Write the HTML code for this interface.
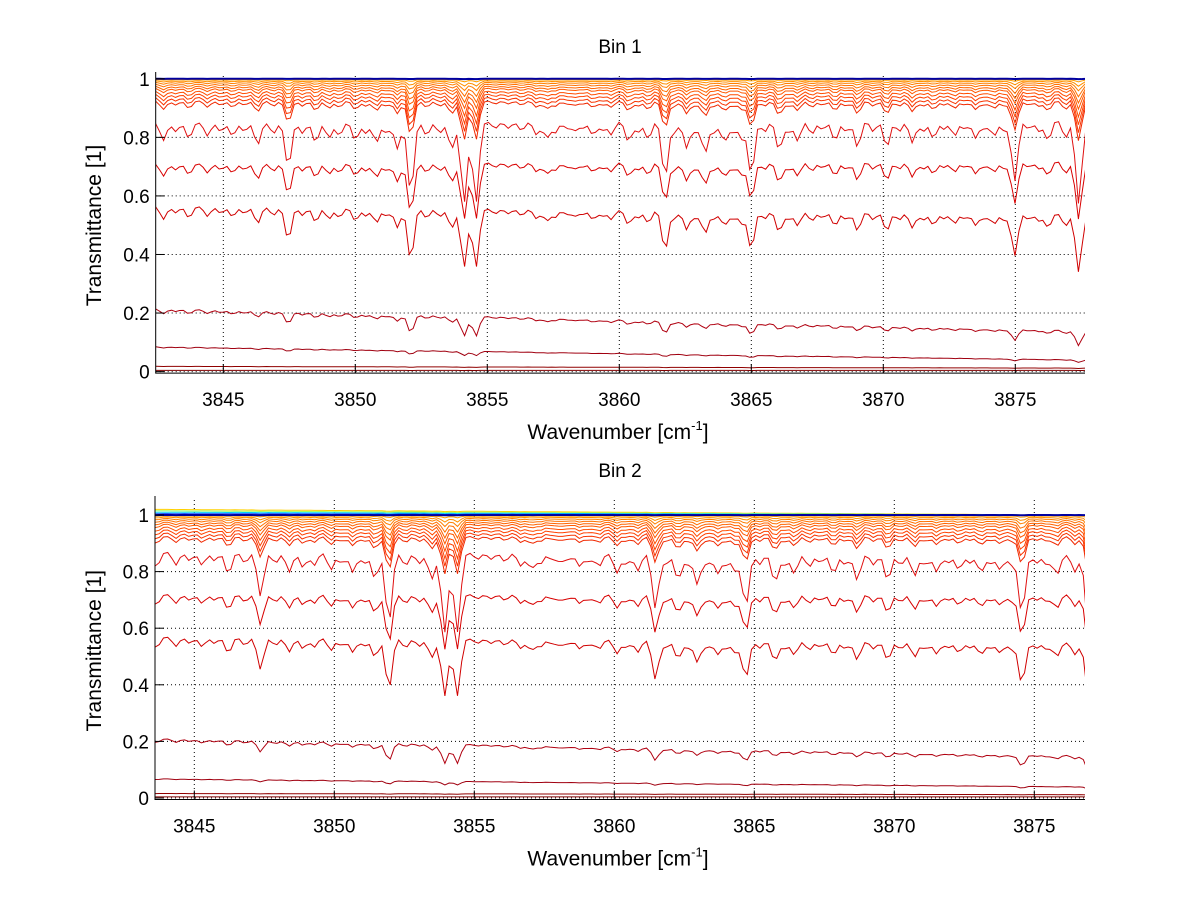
<!DOCTYPE html>
<html><head><meta charset="utf-8"><style>
html,body{margin:0;padding:0;background:#fff;}
svg{display:block;font-family:"Liberation Sans",Arial,sans-serif;}
</style></head><body>
<svg id="fig" width="1200" height="901" viewBox="0 0 1200 901"></svg>
<script>
// ---- data ----
const xTicks = [3845,3850,3855,3860,3865,3870,3875];
const yTicks = [0,0.2,0.4,0.6,0.8,1];
const yTickLabels = ["0","0.2","0.4","0.6","0.8","1"];
// absorption line list (centers, fractional depths)
const lineCenters = [3842.73,3843.2,3843.7,3844.4,3844.9,3845.35,3845.8,3846.3,3846.9,3847.46,3848.0,3848.5,3849.0,3849.4,3850.0,3850.4,3850.8,3851.2,3851.6,3852.1,3852.7,3853.2,3853.65,3854.12,3854.57,3855.3,3855.8,3856.3,3856.87,3857.25,3857.57,3858.0,3858.3,3858.6,3859.0,3859.35,3859.7,3860.34,3860.7,3861.1,3861.73,3862.1,3862.55,3862.9,3863.25,3863.6,3863.98,3864.3,3864.64,3865.0,3865.5,3866.05,3866.4,3866.76,3867.29,3867.7,3868.17,3868.6,3869.03,3869.62,3870.13,3870.6,3871.1,3871.5,3871.9,3872.3,3872.7,3873.1,3873.5,3873.85,3874.2,3874.6,3874.98,3875.5,3875.9,3876.25,3876.9,3877.4];
const lineDepths = [0.08,0.04,0.07,0.06,0.04,0.06,0.04,0.10,0.05,0.20,0.05,0.09,0.07,0.06,0.08,0.05,0.09,0.05,0.12,0.32,0.06,0.05,0.12,0.36,0.36,0.03,0.03,0.04,0.06,0.07,0.05,0.03,0.04,0.03,0.06,0.04,0.06,0.09,0.05,0.08,0.25,0.05,0.12,0.05,0.14,0.05,0.09,0.05,0.08,0.24,0.05,0.13,0.05,0.09,0.06,0.04,0.09,0.05,0.12,0.05,0.12,0.05,0.10,0.05,0.08,0.04,0.07,0.04,0.08,0.04,0.07,0.05,0.27,0.04,0.05,0.09,0.08,0.37];
// per-curve baselines (left end, right end) and line-depth scales
const bin1Left  = [1,1,1,1,1,0.997,0.993,0.988,0.982,0.975,0.968,0.958,0.948,0.937,0.925,0.85,0.71,0.565,0.215,0.085,0.018,0.004];
const bin1Right = [1,1,1,1,1,0.997,0.993,0.988,0.982,0.975,0.968,0.958,0.948,0.937,0.925,0.86,0.72,0.54,0.14,0.04,0.012,0.004];
const bin2Left  = [1.02,1.015,1.01,1.005,1.0,0.997,0.993,0.988,0.982,0.975,0.968,0.958,0.948,0.937,0.925,0.87,0.72,0.57,0.21,0.068,0.016,0.004];
const bin2Right = [1,1,1,1,1,0.997,0.993,0.988,0.982,0.975,0.968,0.958,0.948,0.937,0.925,0.86,0.72,0.55,0.15,0.04,0.012,0.004];
const scales    = [0.005,0.005,0.005,0.005,0.003,0.02,0.05,0.08,0.12,0.16,0.2,0.25,0.3,0.35,0.4,0.9,0.75,1.0,1.0,0.6,0.3,0.1];
const colors = ["#ffd000","#a0ff60","#00d0ff","#0040ff","#0000a0","#ffa000","#ff9000","#ff8000","#ff7000","#ff6400","#ff5800","#ff4c00","#ff4000","#f83400","#f02800","#e01010","#d80000","#d00000","#b00010","#a00010","#900000","#800000"];
const bins = [
 {title:"Bin 1", top:78, y0:371.6, py:292.8, left:155.7, right:1085, x0:3845, px0:223.3, pxu:26.4, wmin:3842.44, wmax:3877.64, L:bin1Left, R:bin1Right, shiftA:0, shiftB:0},
 {title:"Bin 2", top:502, y0:798, py:283, left:155, right:1085, x0:3845, px0:194.3, pxu:28, wmin:3843.6, wmax:3876.8, L:bin2Left, R:bin2Right, shiftA:-0.05, shiftB:-0.45}
];
// ---- drawing ----
const NS="http://www.w3.org/2000/svg";
const svg=document.getElementById('fig');
function mk(tag,attrs,parent){const e=document.createElementNS(NS,tag);for(const k in attrs)e.setAttribute(k,attrs[k]);(parent||svg).appendChild(e);return e;}
function D(w){let s=0;for(let i=0;i<lineCenters.length;i++){const d=(w-lineCenters[i])/0.17;s+=lineDepths[i]*Math.exp(-d*d);}return Math.min(s,0.9);}
bins.forEach((b,bi)=>{
  const g=mk('g',{});
  
  
  const X=w=>b.px0+(w-b.x0)*b.pxu;
  const Y=v=>b.y0-v*b.py;
  const bottom=b.y0+1.5;
  xTicks.forEach(t=>{const x=X(t);
    const l=mk('line',{x1:x,x2:x,y1:b.top-2,y2:bottom,stroke:'#000','stroke-width':1,'stroke-dasharray':'1,3'},g);
    });
  yTicks.forEach(t=>{const y=Y(t);
    const l=mk('line',{x1:b.left,x2:b.right,y1:y,y2:y,stroke:'#000','stroke-width':1,'stroke-dasharray':'1,3'},g);
    });
  const clip=mk('clipPath',{id:'c'+bi},g);mk('rect',{x:b.left,y:b.top-8,width:b.right-b.left,height:bottom-b.top+8},clip);
  const sg=mk('g',{'clip-path':'url(#c'+bi+')'},g);
  const n=b.L.length;
  const order=[];for(let k=n-1;k>=5;k--)order.push(k);order.push(0,1,2,3,4);
  order.forEach(k=>{
    let pts=[];
    for(let w=b.wmin;w<=b.wmax+0.15;w+=0.15){
      const f=(w-b.wmin)/(b.wmax-b.wmin);
      const base=b.L[k]+(b.R[k]-b.L[k])*f;
      const sh=b.shiftA+(b.shiftB-b.shiftA)*f;
      let v=base*(1-scales[k]*D(w-sh));
      pts.push(X(w).toFixed(1)+','+Y(v).toFixed(1));
    }
    const p=mk('polyline',{points:pts.join(' '),fill:'none',stroke:colors[k],'stroke-width':(k===4?2:1)},sg);
    
    
  });
  const ax=mk('path',{d:`M${b.left},${b.top-6}V${bottom}H${b.right}`,stroke:'#000','stroke-width':1,fill:'none'},g);
  
  xTicks.forEach(t=>{const x=X(t);
    mk('line',{x1:x,x2:x,y1:bottom,y2:bottom-9,stroke:'#000'},g);
    const tx=mk('text',{x:x,y:bottom+33,'text-anchor':'middle','font-size':19},g);tx.textContent=t;
    });
  yTicks.forEach((t,i)=>{const y=Y(t);
    mk('line',{x1:b.left,x2:b.left+9,y1:y,y2:y,stroke:'#000'},g);
    const tx=mk('text',{x:b.left-6,y:y+7,'text-anchor':'end','font-size':19},g);tx.textContent=yTickLabels[i];
    });
  const ti=mk('text',{x:620,y:b.top-25,'text-anchor':'middle','font-size':19},g);ti.textContent=b.title;
  
  const xl=mk('text',{x:618,y:bottom+66,'text-anchor':'middle','font-size':21},g);
  xl.innerHTML='Wavenumber [cm<tspan dy="-9" font-size="13">-1</tspan><tspan dy="9">]</tspan>';
  
  const cy=(b.top+bottom)/2;
  const yl=mk('text',{x:101,y:cy,'text-anchor':'middle','font-size':21,transform:`rotate(-90 101 ${cy})`},g);
  yl.textContent='Transmittance [1]';
  
});
</script>
</body></html>
